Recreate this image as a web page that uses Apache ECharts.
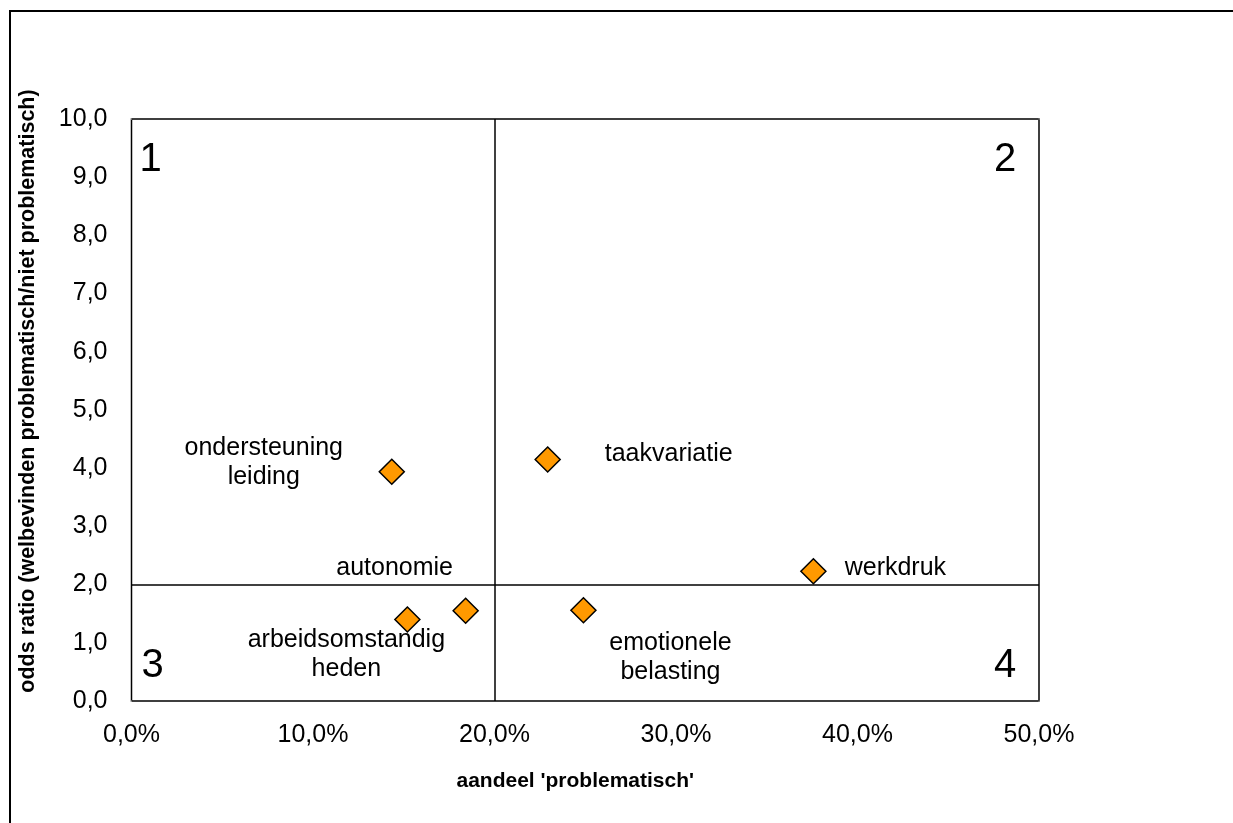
<!DOCTYPE html>
<html>
<head>
<meta charset="utf-8">
<script src="https://cdn.jsdelivr.net/npm/echarts@6/dist/echarts.min.js"></script>
<style>
html,body{margin:0;padding:0;background:#fff;}
#chart{width:1233px;height:823px;}
</style>
</head>
<body>
<div id="chart"></div>
<script>
// Data
var itemNames = ['ondersteuning\nleiding', 'taakvariatie', 'werkdruk', 'autonomie', 'arbeidsomstandig\nheden', 'emotionele\nbelasting'];
var shareProblematic = [14.34, 22.93, 37.57, 18.41, 15.2, 24.9]; // %
var oddsRatio = [3.94, 4.15, 2.23, 1.55, 1.40, 1.56];
var quadrantLabels = ['1', '2', '3', '4'];
var quadrantPos = [[0, 10], [50, 10], [0, 0], [50, 0]];
var refX = 20;
var refY = 2;

// label placement (styling only)
var labelOffsets = [[-128, -9], [121, -5], [82, -3], [-71, -43], [-61, 35], [87, 47]];
var quadOffsets = [[19, 41], [-34, 41], [21, -35], [-34, -35]];

var fontFam = '"Liberation Sans", Arial, sans-serif';

var pointData = itemNames.map(function (n, i) {
  return {
    name: n,
    value: [shareProblematic[i], oddsRatio[i]],
    label: { offset: labelOffsets[i] }
  };
});

var quadData = quadrantLabels.map(function (q, i) {
  return { name: q, value: quadrantPos[i], label: { offset: quadOffsets[i] } };
});

var chart = echarts.init(document.getElementById('chart'));
chart.setOption({
  backgroundColor: '#fff',
  animation: false,
  grid: {
    left: 131.5, top: 119, right: 194, bottom: 122,
    show: true, borderColor: '#000', borderWidth: 1.5
  },
  xAxis: {
    type: 'value', min: 0, max: 50, interval: 10,
    name: "aandeel 'problematisch'",
    nameLocation: 'middle', nameGap: 70,
    nameTextStyle: { fontFamily: fontFam, fontWeight: 'bold', fontSize: 21, color: '#000', padding: [0, 20, 0, 0] },
    axisLine: { show: false }, axisTick: { show: false }, splitLine: { show: false },
    axisLabel: {
      margin: 22, fontFamily: fontFam, fontSize: 25, color: '#000',
      formatter: function (v) { return v.toFixed(1).replace('.', ',') + '%'; }
    }
  },
  yAxis: {
    type: 'value', min: 0, max: 10, interval: 1,
    name: 'odds ratio (welbevinden problematisch/niet problematisch)',
    nameLocation: 'middle', nameGap: 92, nameRotate: 90,
    nameTextStyle: { fontFamily: fontFam, fontWeight: 'bold', fontSize: 21.5, color: '#000', padding: [0, 0, 0, 38] },
    axisLine: { show: false }, axisTick: { show: false }, splitLine: { show: false },
    axisLabel: {
      margin: 24, fontFamily: fontFam, fontSize: 25, color: '#000',
      formatter: function (v) { return v.toFixed(1).replace('.', ','); }
    }
  },
  graphic: [{
    type: 'rect', silent: true,
    shape: { x: 10, y: 11, width: 1300, height: 900 },
    style: { fill: 'none', stroke: '#000', lineWidth: 2 }
  }],
  series: [{
    type: 'scatter',
    symbol: 'diamond',
    symbolSize: 25,
    itemStyle: { color: '#FF9900', borderColor: '#000', borderWidth: 1.5, opacity: 1 },
    label: {
      show: true, position: 'inside',
      formatter: '{b}', align: 'center', verticalAlign: 'middle',
      fontFamily: fontFam, fontSize: 25, lineHeight: 29, color: '#000'
    },
    data: pointData,
    z: 5,
    markLine: {
      silent: true, symbol: 'none',
      label: { show: false },
      lineStyle: { color: '#000', width: 1.5, type: 'solid' },
      data: [{ xAxis: refX }, { yAxis: refY }]
    }
  }, {
    type: 'scatter',
    symbol: 'circle',
    symbolSize: 1,
    itemStyle: { color: '#fff', borderWidth: 0, opacity: 1 },
    label: {
      show: true, position: 'inside', formatter: '{b}',
      align: 'center', verticalAlign: 'middle',
      fontFamily: fontFam, fontSize: 40, color: '#000', opacity: 1
    },
    data: quadData
  }]
});
</script>
</body>
</html>
